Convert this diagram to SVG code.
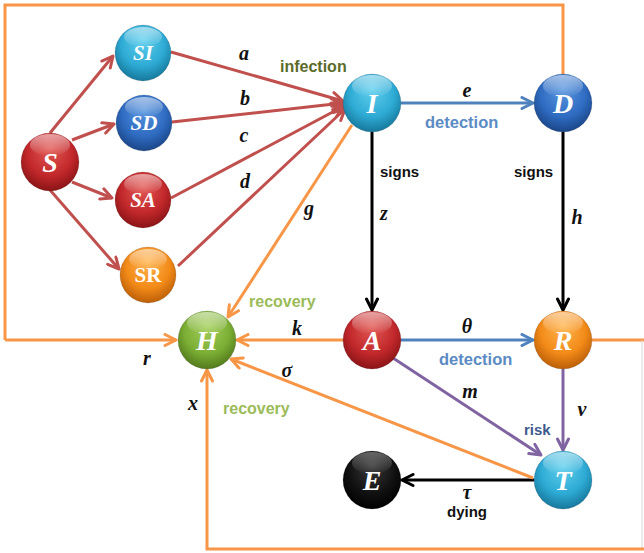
<svg xmlns="http://www.w3.org/2000/svg" width="644" height="553" viewBox="0 0 644 553">
<defs>
<radialGradient id="gRed" cx="50%" cy="40%" r="60%" fx="50%" fy="25%"><stop offset="0" stop-color="#E35A55"/><stop offset="0.65" stop-color="#C2282B"/><stop offset="1" stop-color="#8A1416"/></radialGradient>
<radialGradient id="gCyan" cx="50%" cy="40%" r="60%" fx="50%" fy="25%"><stop offset="0" stop-color="#62D0EE"/><stop offset="0.65" stop-color="#2DAAD4"/><stop offset="1" stop-color="#17789C"/></radialGradient>
<radialGradient id="gBlue" cx="50%" cy="40%" r="60%" fx="50%" fy="25%"><stop offset="0" stop-color="#5A97E0"/><stop offset="0.65" stop-color="#2F6CC2"/><stop offset="1" stop-color="#1B4688"/></radialGradient>
<radialGradient id="gOrange" cx="50%" cy="40%" r="60%" fx="50%" fy="25%"><stop offset="0" stop-color="#FFB54F"/><stop offset="0.65" stop-color="#F28A18"/><stop offset="1" stop-color="#BC5F08"/></radialGradient>
<radialGradient id="gGreen" cx="50%" cy="40%" r="60%" fx="50%" fy="25%"><stop offset="0" stop-color="#A5D05C"/><stop offset="0.65" stop-color="#7BAE34"/><stop offset="1" stop-color="#527A1C"/></radialGradient>
<radialGradient id="gBlack" cx="50%" cy="40%" r="60%" fx="50%" fy="25%"><stop offset="0" stop-color="#3A3A3A"/><stop offset="0.65" stop-color="#111111"/><stop offset="1" stop-color="#000000"/></radialGradient>
<linearGradient id="gHi" x1="0" y1="0" x2="0" y2="1"><stop offset="0" stop-color="#fff" stop-opacity="0.55"/><stop offset="1" stop-color="#fff" stop-opacity="0"/></linearGradient>
<marker id="mRed" markerUnits="userSpaceOnUse" markerWidth="16" markerHeight="14" refX="13" refY="7" orient="auto"><path d="M2,1.5 L13,7 L2,12.5" fill="none" stroke="#C0504D" stroke-width="3" stroke-linejoin="round" stroke-linecap="round"/></marker>
<marker id="mOr" markerUnits="userSpaceOnUse" markerWidth="16" markerHeight="14" refX="13" refY="7" orient="auto"><path d="M2,1.5 L13,7 L2,12.5" fill="none" stroke="#F79646" stroke-width="3" stroke-linejoin="round" stroke-linecap="round"/></marker>
<marker id="mBlue" markerUnits="userSpaceOnUse" markerWidth="16" markerHeight="14" refX="13" refY="7" orient="auto"><path d="M2,1.5 L13,7 L2,12.5" fill="none" stroke="#4F81BD" stroke-width="3" stroke-linejoin="round" stroke-linecap="round"/></marker>
<marker id="mBlack" markerUnits="userSpaceOnUse" markerWidth="16" markerHeight="14" refX="13" refY="7" orient="auto"><path d="M2,1.5 L13,7 L2,12.5" fill="none" stroke="#000" stroke-width="3" stroke-linejoin="round" stroke-linecap="round"/></marker>
<marker id="mPur" markerUnits="userSpaceOnUse" markerWidth="16" markerHeight="14" refX="13" refY="7" orient="auto"><path d="M2,1.5 L13,7 L2,12.5" fill="none" stroke="#8064A2" stroke-width="3" stroke-linejoin="round" stroke-linecap="round"/></marker>
</defs>
<style>
.red{stroke:#C0504D;stroke-width:3;fill:none;marker-end:url(#mRed)}
.or{stroke:#F79646;stroke-width:3;fill:none}
.ora{stroke:#F79646;stroke-width:3;fill:none;marker-end:url(#mOr)}
.blue{stroke:#4F81BD;stroke-width:3;fill:none;marker-end:url(#mBlue)}
.blk{stroke:#000;stroke-width:3;fill:none;marker-end:url(#mBlack)}
.pur{stroke:#8064A2;stroke-width:3;fill:none;marker-end:url(#mPur)}
.nl{font-family:"Liberation Serif",serif;font-weight:bold;font-style:italic;fill:#fff;text-anchor:middle}
.big{font-size:28px}
.sm{font-size:21px}
.var{font-family:"Liberation Serif",serif;font-weight:bold;font-style:italic;font-size:20px;fill:#111;text-anchor:middle}
.lab{font-family:"Liberation Sans",sans-serif;font-weight:bold;font-size:15px}
.hi{fill:url(#gHi)}
.rim{fill:none;stroke:#000;stroke-opacity:0.12;stroke-width:1}
</style>
<rect width="644" height="553" fill="#fff"/>
<g id="connectors">
<path class="or" d="M563,74 V5 H5 V340"/>
<path class="ora" d="M5,340 H176"/>
<path class="or" d="M592,340 H644"/>
<path d="M642,340 V549" stroke="#D6D6D6" stroke-width="1" fill="none"/>
<path class="or" d="M644,549 H207 V400"/>
<path class="ora" d="M207,400 V370"/>
<path class="red" d="M50,133 L113,56"/>
<path class="red" d="M72,140 L114,124"/>
<path class="red" d="M72,182 L112,198"/>
<path class="red" d="M50,190 L119,269"/>
<path class="red" d="M171,52 L343,101"/>
<path class="red" d="M172,122 L343,103"/>
<path class="red" d="M171,198 L344,106"/>
<path class="red" d="M178,266 L345,109"/>
<path class="blue" d="M401,103 L533,103"/>
<path class="blue" d="M401,340 L533,340"/>
<path class="blk" d="M372,132 L372,310"/>
<path class="blk" d="M563,132 L563,310"/>
<path class="pur" d="M393,358 L541,455"/>
<path class="pur" d="M563,369 L563,450"/>
<path class="blk" d="M534,480 L402,480"/>
<path class="ora" d="M352,125 L228,317"/>
<path class="ora" d="M343,340 L237,340"/>
<path class="ora" d="M533,478 L231,359"/>
</g>
<g id="node-S"><circle cx="50" cy="162" r="29" fill="url(#gRed)"/><circle class="rim" cx="50" cy="162" r="29"/><ellipse class="hi" cx="50" cy="145" rx="20" ry="11"/><text class="nl big" x="50" y="172">S</text></g>
<g id="node-SI"><circle cx="143" cy="53" r="28" fill="url(#gCyan)"/><circle class="rim" cx="143" cy="53" r="28"/><ellipse class="hi" cx="143" cy="37" rx="19" ry="10"/><text class="nl sm" x="143" y="60">SI</text></g>
<g id="node-SD"><circle cx="144" cy="123" r="28" fill="url(#gBlue)"/><circle class="rim" cx="144" cy="123" r="28"/><ellipse class="hi" cx="144" cy="107" rx="19" ry="10"/><text class="nl sm" x="144" y="130">SD</text></g>
<g id="node-SA"><circle cx="143" cy="200" r="28" fill="url(#gRed)"/><circle class="rim" cx="143" cy="200" r="28"/><ellipse class="hi" cx="143" cy="184" rx="19" ry="10"/><text class="nl sm" x="143" y="207">SA</text></g>
<g id="node-SR"><circle cx="148" cy="275" r="28" fill="url(#gOrange)"/><circle class="rim" cx="148" cy="275" r="28"/><ellipse class="hi" cx="148" cy="259" rx="19" ry="10"/><text class="nl sm" x="148" y="282" style="font-style:normal">SR</text></g>
<g id="node-I"><circle cx="372" cy="103" r="29" fill="url(#gCyan)"/><circle class="rim" cx="372" cy="103" r="29"/><ellipse class="hi" cx="372" cy="86" rx="20" ry="11"/><text class="nl big" x="372" y="113">I</text></g>
<g id="node-D"><circle cx="563" cy="103" r="29" fill="url(#gBlue)"/><circle class="rim" cx="563" cy="103" r="29"/><ellipse class="hi" cx="563" cy="86" rx="20" ry="11"/><text class="nl big" x="563" y="113">D</text></g>
<g id="node-H"><circle cx="207" cy="340" r="29" fill="url(#gGreen)"/><circle class="rim" cx="207" cy="340" r="29"/><ellipse class="hi" cx="207" cy="323" rx="20" ry="11"/><text class="nl big" x="207" y="350">H</text></g>
<g id="node-A"><circle cx="372" cy="340" r="29" fill="url(#gRed)"/><circle class="rim" cx="372" cy="340" r="29"/><ellipse class="hi" cx="372" cy="323" rx="20" ry="11"/><text class="nl big" x="372" y="350">A</text></g>
<g id="node-R"><circle cx="563" cy="340" r="29" fill="url(#gOrange)"/><circle class="rim" cx="563" cy="340" r="29"/><ellipse class="hi" cx="563" cy="323" rx="20" ry="11"/><text class="nl big" x="563" y="350">R</text></g>
<g id="node-T"><circle cx="563" cy="480" r="29" fill="url(#gCyan)"/><circle class="rim" cx="563" cy="480" r="29"/><ellipse class="hi" cx="563" cy="463" rx="20" ry="11"/><text class="nl big" x="563" y="490">T</text></g>
<g id="node-E"><circle cx="372" cy="480" r="29" fill="url(#gBlack)"/><circle class="rim" cx="372" cy="480" r="29"/><ellipse class="hi" cx="372" cy="463" rx="20" ry="11" opacity="0.6"/><text class="nl big" x="372" y="490">E</text></g>
<g id="labels">
<text class="var" x="244" y="60">a</text>
<text class="var" x="245" y="105">b</text>
<text class="var" x="244" y="142">c</text>
<text class="var" x="245" y="188">d</text>
<text class="var" x="309" y="215">g</text>
<text class="var" x="467" y="97">e</text>
<text class="var" x="384" y="220">z</text>
<text class="var" x="577" y="224">h</text>
<text class="var" x="467" y="333">θ</text>
<text class="var" x="470" y="398">m</text>
<text class="var" x="582" y="416">v</text>
<text class="var" x="467" y="499">τ</text>
<text class="var" x="297" y="335">k</text>
<text class="var" x="147" y="365">r</text>
<text class="var" x="287" y="377">σ</text>
<text class="var" x="193" y="410">x</text>
<text class="lab" x="280" y="72" fill="#5A6B2A" style="font-size:16px">infection</text>
<text class="lab" x="425" y="128" fill="#5B8BC4" style="font-size:16.5px">detection</text>
<text class="lab" x="439" y="365" fill="#5B8BC4" style="font-size:16.5px">detection</text>
<text class="lab" x="380" y="177" fill="#111">signs</text>
<text class="lab" x="514" y="177" fill="#111">signs</text>
<text class="lab" x="524" y="435" fill="#3D5A8E">risk</text>
<text class="lab" x="447" y="517" fill="#111">dying</text>
<text class="lab" x="249" y="307" fill="#9BBB59" style="font-size:16px">recovery</text>
<text class="lab" x="223" y="414" fill="#9BBB59" style="font-size:16px">recovery</text>
</g>
</svg>
